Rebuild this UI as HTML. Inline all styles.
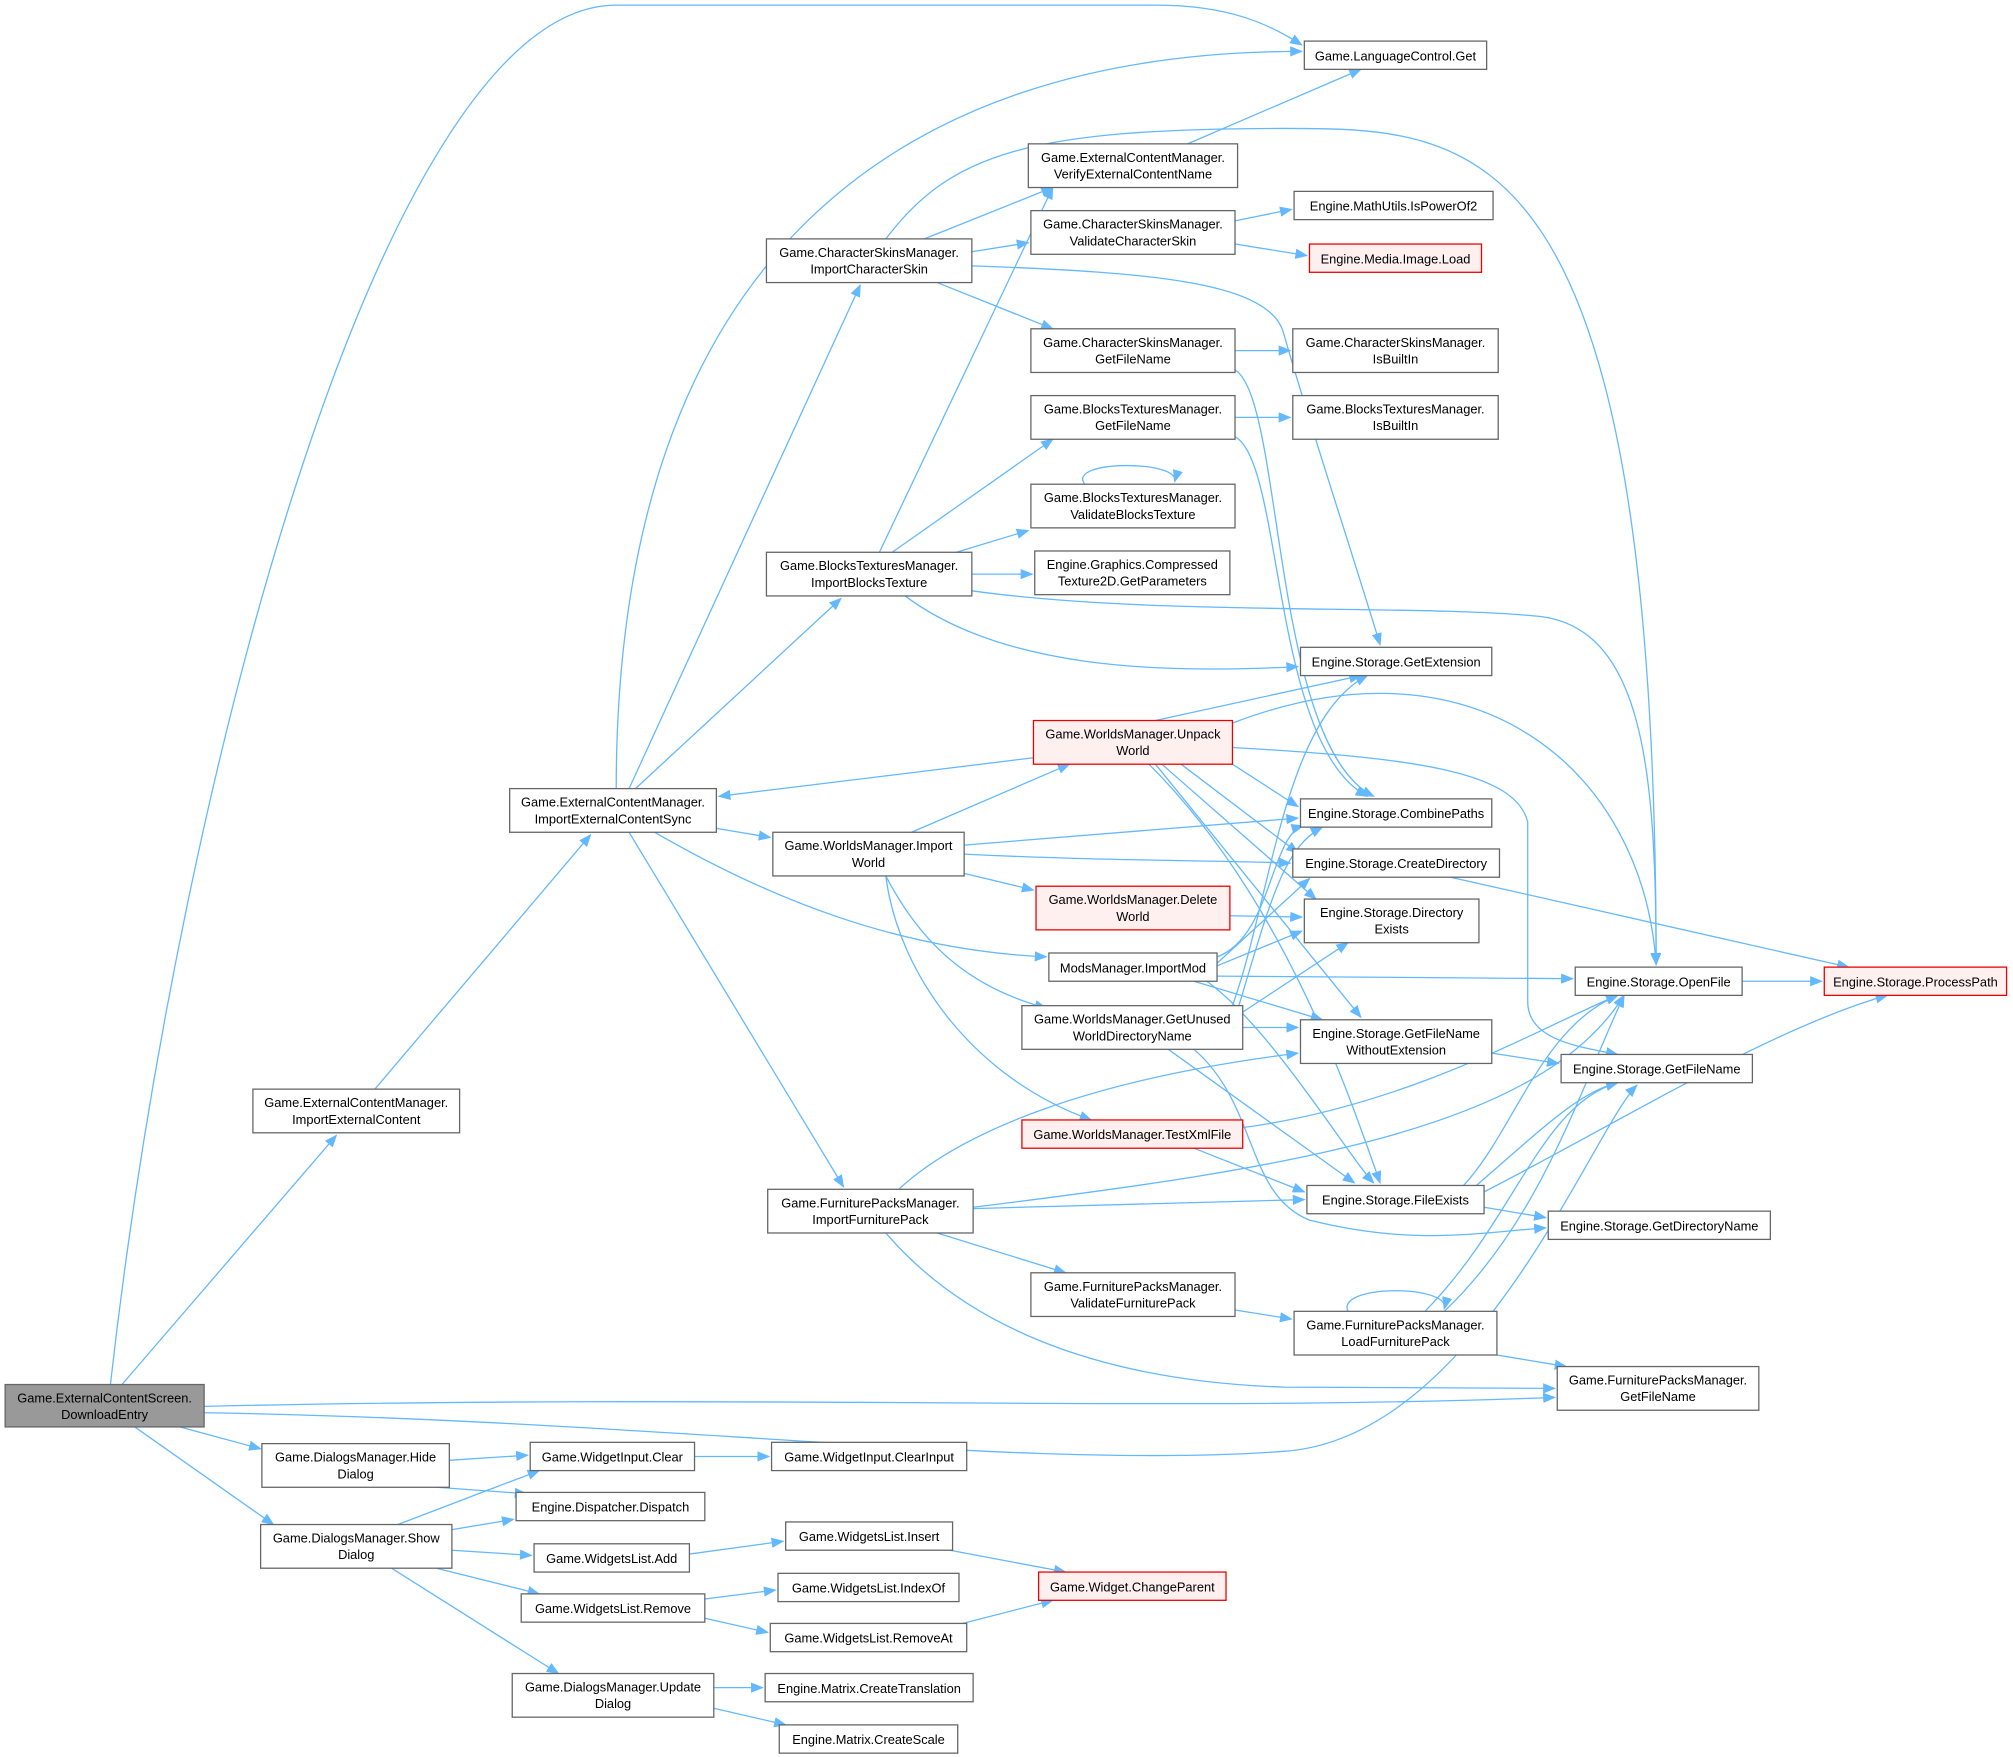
<!DOCTYPE html>
<html><head><meta charset="utf-8"><style>
html,body{margin:0;padding:0;background:#fff;}
svg{display:block;}
text{font-family:"Liberation Sans",Arial,sans-serif;font-size:10px;fill:#000;text-anchor:middle;}
.n{fill:#fff;stroke:#666;stroke-width:1;}
.r{fill:#fff0f0;stroke:#e00;stroke-width:1;}
.g{fill:#999;stroke:#666;stroke-width:1;}
.e{fill:none;stroke:#63b8ff;stroke-width:1;marker-end:url(#a);}
</style></head><body>
<svg width="2013" height="1757" viewBox="0 0 1568 1368" preserveAspectRatio="none" xmlns="http://www.w3.org/2000/svg">
<defs><marker id="a" markerWidth="10" markerHeight="8" refX="9" refY="4" orient="auto" markerUnits="userSpaceOnUse"><path d="M0,0 L10,4 L0,8 Z" fill="#63b8ff"/></marker></defs>
<g>
<path class="e" d="M86,1078 C140,600 300,4 480,4 L900,4 C960,4 990,20 1014,35"/>
<path class="e" d="M95,1078 L262,884"/>
<path class="e" d="M159,1095 C600,1085 900,1100 1211,1088"/>
<path class="e" d="M159,1100 C500,1105 800,1145 1000,1130 C1150,1120 1240,880 1275,845"/>
<path class="e" d="M140,1111 L203,1128"/>
<path class="e" d="M105,1111 L213,1187"/>
<path class="e" d="M292,848 L460,650"/>
<path class="e" d="M480,614 C480,200 700,40 1014,40"/>
<path class="e" d="M490,614 L670,222"/>
<path class="e" d="M495,614 L655,466"/>
<path class="e" d="M558,645 L600,652"/>
<path class="e" d="M510,648 C600,700 700,740 815,745"/>
<path class="e" d="M490,648 L657,924"/>
<path class="e" d="M805,590 L560,620"/>
<path class="e" d="M720,186 L820,146"/>
<path class="e" d="M757,196 L801,189"/>
<path class="e" d="M690,186 C740,120 800,100 1000,100 C1150,100 1290,100 1290,751"/>
<path class="e" d="M757,207 C900,212 990,220 1000,260 C1020,330 1050,420 1075,502"/>
<path class="e" d="M730,220 L820,256"/>
<path class="e" d="M925,112 L1060,54"/>
<path class="e" d="M962,172 L1006,163"/>
<path class="e" d="M962,190 L1018,199"/>
<path class="e" d="M962,273 L1005,273"/>
<path class="e" d="M962,288 C1000,310 990,580 1070,620"/>
<path class="e" d="M962,325 L1005,325"/>
<path class="e" d="M962,340 C1000,360 990,580 1065,620"/>
<path class="e" d="M845,377 C830,358 920,358 915,375"/>
<path class="e" d="M685,430 L820,146"/>
<path class="e" d="M695,430 L820,342"/>
<path class="e" d="M745,430 L801,413"/>
<path class="e" d="M757,447 L804,447"/>
<path class="e" d="M757,460 C900,480 1100,470 1200,480 C1280,490 1290,600 1290,751"/>
<path class="e" d="M705,464 C780,520 900,525 1011,519"/>
<path class="e" d="M900,561 L1060,526"/>
<path class="e" d="M960,563 C1150,490 1280,600 1290,751"/>
<path class="e" d="M960,582 C1100,590 1180,600 1190,640 L1190,780 C1190,810 1230,815 1260,821"/>
<path class="e" d="M960,595 L1011,628"/>
<path class="e" d="M920,595 L1011,664"/>
<path class="e" d="M905,595 L1025,700"/>
<path class="e" d="M900,595 L1060,792"/>
<path class="e" d="M895,595 C1000,700 1050,850 1075,921"/>
<path class="e" d="M710,648 L833,595"/>
<path class="e" d="M751,658 L1011,637"/>
<path class="e" d="M751,665 C850,670 950,670 1005,672"/>
<path class="e" d="M751,680 L805,693"/>
<path class="e" d="M690,682 C720,740 760,770 815,785"/>
<path class="e" d="M690,682 C700,760 760,840 850,872"/>
<path class="e" d="M958,713 L1014,714"/>
<path class="e" d="M948,745 C990,730 990,650 1015,643"/>
<path class="e" d="M948,750 L1020,684"/>
<path class="e" d="M948,752 L1014,725"/>
<path class="e" d="M948,760 L1225,762"/>
<path class="e" d="M930,764 L1030,794"/>
<path class="e" d="M940,764 C990,800 1050,900 1070,921"/>
<path class="e" d="M960,783 C990,700 1000,560 1065,526"/>
<path class="e" d="M965,783 C990,700 1000,660 1030,644"/>
<path class="e" d="M965,790 L1050,734"/>
<path class="e" d="M968,800 L1011,800"/>
<path class="e" d="M910,817 L1055,921"/>
<path class="e" d="M930,817 C980,860 970,930 1020,950 C1100,970 1150,960 1204,956"/>
<path class="e" d="M968,878 C1100,860 1200,800 1260,775"/>
<path class="e" d="M930,894 L1016,928"/>
<path class="e" d="M1130,683 L1440,753"/>
<path class="e" d="M1357,764 L1419,764"/>
<path class="e" d="M1162,820 L1214,828"/>
<path class="e" d="M1156,928 C1250,880 1380,800 1470,775"/>
<path class="e" d="M1150,923 C1200,880 1230,850 1260,843"/>
<path class="e" d="M1140,923 C1180,880 1200,800 1260,775"/>
<path class="e" d="M1156,940 L1204,948"/>
<path class="e" d="M700,926 C750,880 850,840 1011,820"/>
<path class="e" d="M758,940 C1000,910 1200,880 1265,775"/>
<path class="e" d="M758,941 L1016,934"/>
<path class="e" d="M730,960 L830,991"/>
<path class="e" d="M690,960 C750,1030 850,1075 1000,1080 L1211,1081"/>
<path class="e" d="M962,1020 L1006,1027"/>
<path class="e" d="M1050,1021 C1040,1000 1130,1000 1125,1019"/>
<path class="e" d="M1125,1021 C1200,950 1230,850 1265,775"/>
<path class="e" d="M1110,1021 C1180,950 1200,860 1260,843"/>
<path class="e" d="M1166,1055 L1220,1064"/>
<path class="e" d="M350,1137 L411,1133"/>
<path class="e" d="M340,1158 L410,1163"/>
<path class="e" d="M310,1187 L420,1145"/>
<path class="e" d="M352,1191 L400,1183"/>
<path class="e" d="M352,1207 L414,1211"/>
<path class="e" d="M340,1221 L420,1241"/>
<path class="e" d="M305,1221 L435,1303"/>
<path class="e" d="M541,1134 L599,1134"/>
<path class="e" d="M537,1210 L610,1200"/>
<path class="e" d="M740,1207 L830,1224"/>
<path class="e" d="M549,1245 L604,1238"/>
<path class="e" d="M549,1260 L598,1271"/>
<path class="e" d="M750,1264 L820,1246"/>
<path class="e" d="M556,1314 L594,1314"/>
<path class="e" d="M556,1330 L612,1343"/>
</g>
<g>
<rect class="g" x="4" y="1078" width="155" height="33"/><text x="81.5" y="1092">Game.ExternalContentScreen.</text><text x="81.5" y="1105">DownloadEntry</text>
<rect class="n" x="197" y="848" width="161" height="34"/><text x="277.5" y="862">Game.ExternalContentManager.</text><text x="277.5" y="875">ImportExternalContent</text>
<rect class="n" x="397" y="614" width="161" height="34"/><text x="477.5" y="628">Game.ExternalContentManager.</text><text x="477.5" y="641">ImportExternalContentSync</text>
<rect class="n" x="1016" y="32" width="142" height="22"/><text x="1087" y="47">Game.LanguageControl.Get</text>
<rect class="n" x="801" y="112" width="163" height="34"/><text x="882.5" y="126">Game.ExternalContentManager.</text><text x="882.5" y="139">VerifyExternalContentName</text>
<rect class="n" x="597" y="186" width="160" height="34"/><text x="677" y="200">Game.CharacterSkinsManager.</text><text x="677" y="213">ImportCharacterSkin</text>
<rect class="n" x="803" y="164" width="159" height="34"/><text x="882.5" y="178">Game.CharacterSkinsManager.</text><text x="882.5" y="191">ValidateCharacterSkin</text>
<rect class="n" x="1008" y="149" width="155" height="22"/><text x="1085.5" y="164">Engine.MathUtils.IsPowerOf2</text>
<rect class="r" x="1020" y="190" width="134" height="22"/><text x="1087" y="205">Engine.Media.Image.Load</text>
<rect class="n" x="803" y="256" width="159" height="34"/><text x="882.5" y="270">Game.CharacterSkinsManager.</text><text x="882.5" y="283">GetFileName</text>
<rect class="n" x="1007" y="256" width="160" height="34"/><text x="1087" y="270">Game.CharacterSkinsManager.</text><text x="1087" y="283">IsBuiltIn</text>
<rect class="n" x="803" y="308" width="159" height="34"/><text x="882.5" y="322">Game.BlocksTexturesManager.</text><text x="882.5" y="335">GetFileName</text>
<rect class="n" x="1007" y="308" width="160" height="34"/><text x="1087" y="322">Game.BlocksTexturesManager.</text><text x="1087" y="335">IsBuiltIn</text>
<rect class="n" x="803" y="377" width="159" height="34"/><text x="882.5" y="391">Game.BlocksTexturesManager.</text><text x="882.5" y="404">ValidateBlocksTexture</text>
<rect class="n" x="597" y="430" width="160" height="34"/><text x="677" y="444">Game.BlocksTexturesManager.</text><text x="677" y="457">ImportBlocksTexture</text>
<rect class="n" x="806" y="429" width="152" height="34"/><text x="882" y="443">Engine.Graphics.Compressed</text><text x="882" y="456">Texture2D.GetParameters</text>
<rect class="n" x="1013" y="504" width="149" height="22"/><text x="1087.5" y="519">Engine.Storage.GetExtension</text>
<rect class="r" x="805" y="561" width="155" height="34"/><text x="882.5" y="575">Game.WorldsManager.Unpack</text><text x="882.5" y="588">World</text>
<rect class="n" x="1013" y="622" width="149" height="22"/><text x="1087.5" y="637">Engine.Storage.CombinePaths</text>
<rect class="n" x="1007" y="661" width="161" height="22"/><text x="1087.5" y="676">Engine.Storage.CreateDirectory</text>
<rect class="n" x="602" y="648" width="149" height="34"/><text x="676.5" y="662">Game.WorldsManager.Import</text><text x="676.5" y="675">World</text>
<rect class="r" x="807" y="690" width="151" height="34"/><text x="882.5" y="704">Game.WorldsManager.Delete</text><text x="882.5" y="717">World</text>
<rect class="n" x="1016" y="700" width="136" height="34"/><text x="1084" y="714">Engine.Storage.Directory</text><text x="1084" y="727">Exists</text>
<rect class="n" x="817" y="742" width="131" height="22"/><text x="882.5" y="757">ModsManager.ImportMod</text>
<rect class="n" x="1227" y="753" width="130" height="22"/><text x="1292" y="768">Engine.Storage.OpenFile</text>
<rect class="r" x="1421" y="753" width="142" height="22"/><text x="1492" y="768">Engine.Storage.ProcessPath</text>
<rect class="n" x="796" y="783" width="172" height="34"/><text x="882" y="797">Game.WorldsManager.GetUnused</text><text x="882" y="810">WorldDirectoryName</text>
<rect class="n" x="1013" y="794" width="149" height="34"/><text x="1087.5" y="808">Engine.Storage.GetFileName</text><text x="1087.5" y="821">WithoutExtension</text>
<rect class="n" x="1216" y="821" width="149" height="22"/><text x="1290.5" y="836">Engine.Storage.GetFileName</text>
<rect class="r" x="796" y="872" width="172" height="22"/><text x="882" y="887">Game.WorldsManager.TestXmlFile</text>
<rect class="n" x="598" y="926" width="160" height="34"/><text x="678" y="940">Game.FurniturePacksManager.</text><text x="678" y="953">ImportFurniturePack</text>
<rect class="n" x="1018" y="923" width="138" height="22"/><text x="1087" y="938">Engine.Storage.FileExists</text>
<rect class="n" x="1206" y="943" width="173" height="22"/><text x="1292.5" y="958">Engine.Storage.GetDirectoryName</text>
<rect class="n" x="803" y="991" width="159" height="34"/><text x="882.5" y="1005">Game.FurniturePacksManager.</text><text x="882.5" y="1018">ValidateFurniturePack</text>
<rect class="n" x="1008" y="1021" width="158" height="34"/><text x="1087" y="1035">Game.FurniturePacksManager.</text><text x="1087" y="1048">LoadFurniturePack</text>
<rect class="n" x="1213" y="1064" width="157" height="34"/><text x="1291.5" y="1078">Game.FurniturePacksManager.</text><text x="1291.5" y="1091">GetFileName</text>
<rect class="n" x="204" y="1124" width="146" height="34"/><text x="277" y="1138">Game.DialogsManager.Hide</text><text x="277" y="1151">Dialog</text>
<rect class="n" x="413" y="1123" width="128" height="22"/><text x="477" y="1138">Game.WidgetInput.Clear</text>
<rect class="n" x="601" y="1123" width="152" height="22"/><text x="677" y="1138">Game.WidgetInput.ClearInput</text>
<rect class="n" x="402" y="1162" width="147" height="22"/><text x="475.5" y="1177">Engine.Dispatcher.Dispatch</text>
<rect class="n" x="203" y="1187" width="149" height="34"/><text x="277.5" y="1201">Game.DialogsManager.Show</text><text x="277.5" y="1214">Dialog</text>
<rect class="n" x="416" y="1202" width="121" height="22"/><text x="476.5" y="1217">Game.WidgetsList.Add</text>
<rect class="n" x="612" y="1185" width="130" height="22"/><text x="677" y="1200">Game.WidgetsList.Insert</text>
<rect class="r" x="809" y="1224" width="146" height="22"/><text x="882" y="1239">Game.Widget.ChangeParent</text>
<rect class="n" x="406" y="1241" width="143" height="22"/><text x="477.5" y="1256">Game.WidgetsList.Remove</text>
<rect class="n" x="606" y="1225" width="141" height="22"/><text x="676.5" y="1240">Game.WidgetsList.IndexOf</text>
<rect class="n" x="600" y="1264" width="153" height="22"/><text x="676.5" y="1279">Game.WidgetsList.RemoveAt</text>
<rect class="n" x="399" y="1303" width="157" height="34"/><text x="477.5" y="1317">Game.DialogsManager.Update</text><text x="477.5" y="1330">Dialog</text>
<rect class="n" x="596" y="1303" width="162" height="22"/><text x="677" y="1318">Engine.Matrix.CreateTranslation</text>
<rect class="n" x="607" y="1343" width="139" height="22"/><text x="676.5" y="1358">Engine.Matrix.CreateScale</text>
</g>
</svg>
</body></html>
